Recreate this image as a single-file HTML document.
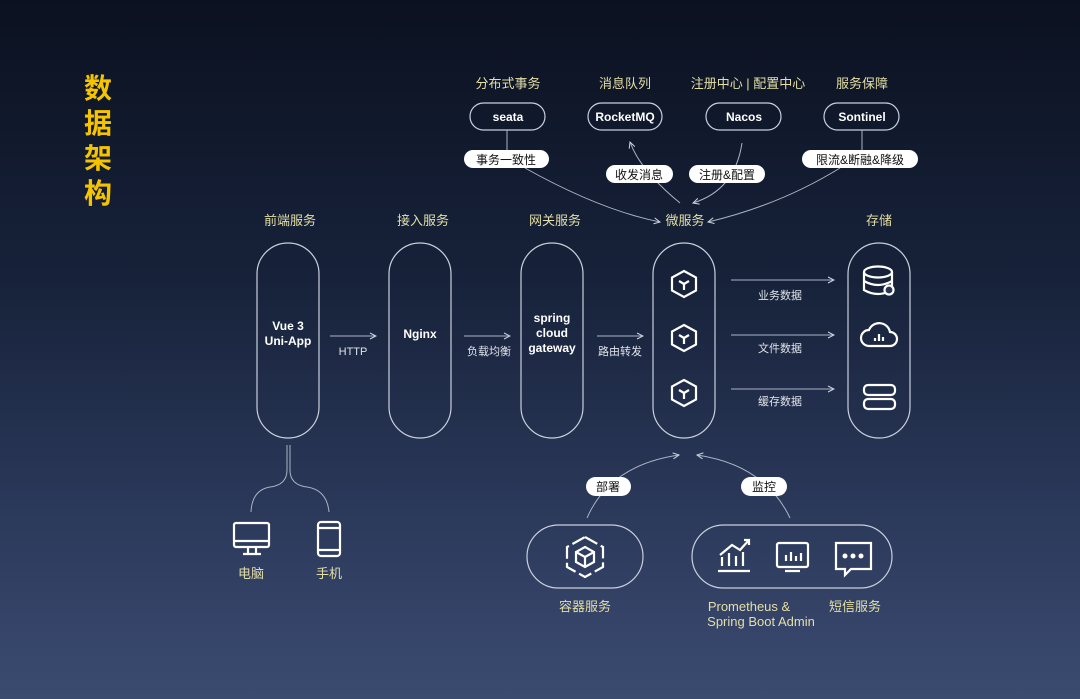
<!DOCTYPE html>
<html><head><meta charset="utf-8"><style>
body{margin:0;width:1080px;height:699px;overflow:hidden;background:linear-gradient(180deg,#0b1120 0%,#17223a 40%,#2c3a5c 75%,#3b4b70 100%);}
svg{display:block}
text{font-family:"Liberation Sans","Noto Sans CJK SC",sans-serif;}
.y{fill:#e4dfa6;font-size:13px;text-anchor:middle}
.w{fill:#fff;font-size:12px;font-weight:bold;text-anchor:middle}
.b{fill:#111;font-size:12px;text-anchor:middle}
.g{fill:#dfe3ea;font-size:11px;text-anchor:middle}
.o{fill:none;stroke:#c9cfdc;stroke-width:1.2}
.l{fill:none;stroke:#aab3c5;stroke-width:1}
.i{fill:none;stroke:#fff;stroke-width:2.2}
</style></head><body>
<svg width="1080" height="699" viewBox="0 0 1080 699">
<defs><marker id="a" markerWidth="8" markerHeight="8" refX="7" refY="4" orient="auto"><path d="M1,1 L7,4 L1,7" fill="none" stroke="#cfd5e0" stroke-width="1"/></marker></defs>
<g fill="#f5c400" font-weight="bold" font-size="28" style="font-family:'Noto Sans CJK SC',sans-serif">
<text x="84" y="98">数</text><text x="84" y="133">据</text><text x="84" y="168">架</text><text x="84" y="203">构</text></g>

<text class="y" x="508" y="88">分布式事务</text>
<text class="y" x="625" y="88">消息队列</text>
<text class="y" x="748" y="88">注册中心 | 配置中心</text>
<text class="y" x="862" y="88">服务保障</text>
<rect class="o" x="470" y="103" width="75" height="27" rx="13.5"/><text class="w" x="508" y="121">seata</text>
<rect class="o" x="588" y="103" width="74" height="27" rx="13.5"/><text class="w" x="625" y="121">RocketMQ</text>
<rect class="o" x="706" y="103" width="75" height="27" rx="13.5"/><text class="w" x="744" y="121">Nacos</text>
<rect class="o" x="824" y="103" width="75" height="27" rx="13.5"/><text class="w" x="862" y="121">Sontinel</text>

<path class="l" d="M507,130 V150"/>
<path class="l" d="M862,130 V150"/>
<path class="l" d="M525,168 Q600,210 660,222" marker-end="url(#a)"/>
<path class="l" d="M680,203 Q640,170 630,142" marker-end="url(#a)"/>
<path class="l" d="M742,143 Q735,190 693,203" marker-end="url(#a)"/>
<path class="l" d="M840,168 Q780,205 708,222" marker-end="url(#a)"/>

<rect x="464" y="150" width="85" height="18" rx="9" fill="#fff"/><text class="b" x="506" y="164">事务一致性</text>
<rect x="606" y="165" width="67" height="18" rx="9" fill="#fff"/><text class="b" x="639" y="179">收发消息</text>
<rect x="689" y="165" width="76" height="18" rx="9" fill="#fff"/><text class="b" x="727" y="179">注册&amp;配置</text>
<rect x="802" y="150" width="116" height="18" rx="9" fill="#fff"/><text class="b" x="860" y="164">限流&amp;断融&amp;降级</text>

<text class="y" x="290" y="225">前端服务</text>
<text class="y" x="423" y="225">接入服务</text>
<text class="y" x="555" y="225">网关服务</text>
<text class="y" x="685" y="225">微服务</text>
<text class="y" x="879" y="225">存储</text>

<rect class="o" x="257" y="243" width="62" height="195" rx="31"/>
<rect class="o" x="389" y="243" width="62" height="195" rx="31"/>
<rect class="o" x="521" y="243" width="62" height="195" rx="31"/>
<rect class="o" x="653" y="243" width="62" height="195" rx="31"/>
<rect class="o" x="848" y="243" width="62" height="195" rx="31"/>

<text class="w" x="288" y="330">Vue 3</text><text class="w" x="288" y="345">Uni-App</text>
<text class="w" x="420" y="338">Nginx</text>
<text class="w" x="552" y="322">spring</text><text class="w" x="552" y="337">cloud</text><text class="w" x="552" y="352">gateway</text>

<path class="l" d="M330,336 H376" marker-end="url(#a)"/><text class="g" x="353" y="355">HTTP</text>
<path class="l" d="M464,336 H510" marker-end="url(#a)"/><text class="g" x="489" y="355">负载均衡</text>
<path class="l" d="M597,336 H643" marker-end="url(#a)"/><text class="g" x="620" y="355">路由转发</text>

<path class="l" d="M731,280 H834" marker-end="url(#a)"/><text class="g" x="780" y="299">业务数据</text>
<path class="l" d="M731,335 H834" marker-end="url(#a)"/><text class="g" x="780" y="352">文件数据</text>
<path class="l" d="M731,389 H834" marker-end="url(#a)"/><text class="g" x="780" y="405">缓存数据</text>

<g class="i" stroke-width="1.6">
<g transform="translate(684,284)"><path d="M0,-13 L12,-6.5 L12,6.5 L0,13 L-12,6.5 L-12,-6.5Z"/><path d="M0,0 L-5,-3 M0,0 L5,-3 M0,0 V6"/></g>
<g transform="translate(684,338)"><path d="M0,-13 L12,-6.5 L12,6.5 L0,13 L-12,6.5 L-12,-6.5Z"/><path d="M0,0 L-5,-3 M0,0 L5,-3 M0,0 V6"/></g>
<g transform="translate(684,393)"><path d="M0,-13 L12,-6.5 L12,6.5 L0,13 L-12,6.5 L-12,-6.5Z"/><path d="M0,0 L-5,-3 M0,0 L5,-3 M0,0 V6"/></g>
</g>
<g class="i">
<ellipse cx="878" cy="272" rx="14" ry="5.5"/><path d="M864,272 V290 Q878,298 892,290 V272 M864,281 Q878,289 892,281"/>
<circle cx="889" cy="290" r="4.5" fill="#2a3555"/>
<path d="M869,346 a8,8 0 0 1 0,-16 a11,11 0 0 1 21,2 a7,7 0 0 1 0,14 Z"/><path d="M875,341 v-3 M879,341 v-7 M883,341 v-4"/>
<rect x="864" y="385" width="31" height="10" rx="4"/><rect x="864" y="399" width="31" height="10" rx="4"/>
</g>

<path class="l" d="M287,445 V470 Q287,485 270,487 Q252,490 251,512"/>
<path class="l" d="M290,445 V470 Q290,485 307,487 Q327,490 329,512"/>
<g class="i" stroke-width="1.8">
<rect x="234" y="523" width="35" height="24" rx="2"/><path d="M234,541 H269 M248,547 V553 M256,547 V553 M243,554 H261"/>
<rect x="318" y="522" width="22" height="34" rx="3"/><path d="M318,528 H340 M318,550 H340"/>
</g>
<text class="y" x="251" y="578">电脑</text><text class="y" x="329" y="578">手机</text>

<path class="l" d="M587,518 Q610,465 679,455" marker-end="url(#a)"/>
<path class="l" d="M790,518 Q765,465 697,455" marker-end="url(#a)"/>
<rect x="586" y="477" width="45" height="19" rx="9.5" fill="#fff"/><text class="b" x="608" y="491">部署</text>
<rect x="741" y="477" width="46" height="19" rx="9.5" fill="#fff"/><text class="b" x="764" y="491">监控</text>
<rect class="o" x="527" y="525" width="116" height="63" rx="31.5"/>
<rect class="o" x="692" y="525" width="200" height="63" rx="31.5"/>
<g class="i" stroke-width="1.8">
<path d="M585,537 L603,547 V567 L585,577 L567,567 V547Z" stroke-dasharray="14,4"/>
<path d="M585,547 L594,552 V562 L585,567 L576,562 V552Z M576,552 L585,557 L594,552 M585,557 V567"/>
<path d="M718,571 H750 M722,566 v-9 M729,566 v-13 M736,566 v-10 M743,566 v-14 M720,555 L732,545 L740,550 L749,540 M744,540 H749 V545"/>
<rect x="777" y="543" width="31" height="24" rx="2"/><path d="M785,571 H800 M786,561 v-6 M791,561 v-9 M796,561 v-5 M801,561 v-8"/>
<path d="M836,543 H871 V569 H851 L845,575 V569 H836Z"/>
</g>
<g fill="#fff"><circle cx="845" cy="556" r="2.5"/><circle cx="853" cy="556" r="2.5"/><circle cx="861" cy="556" r="2.5"/></g>
<text class="y" x="585" y="611">容器服务</text>
<text class="y" x="749" y="611" font-size="12">Prometheus &amp;</text>
<text class="y" x="761" y="626" font-size="12">Spring Boot Admin</text>
<text class="y" x="855" y="611">短信服务</text>
</svg>
</body></html>
